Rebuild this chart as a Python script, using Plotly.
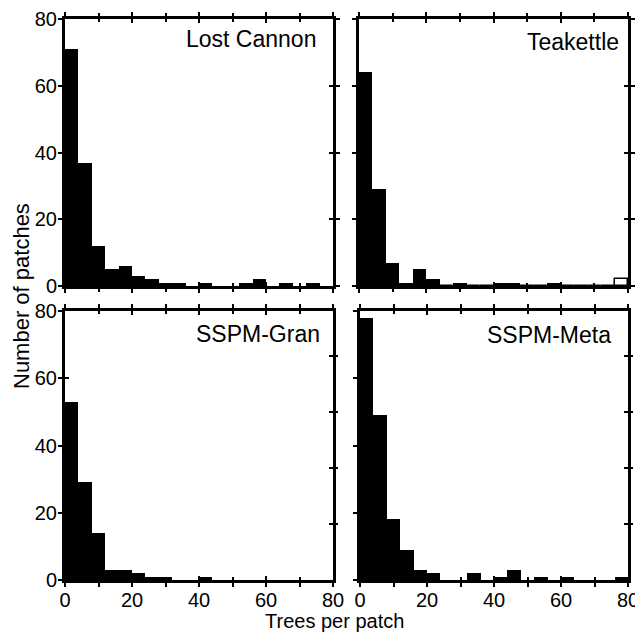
import plotly.graph_objects as go

# ---- data ----
bin_width = 4
bin_centers = [2 + 4 * i for i in range(20)]
panel_names = ["Lost Cannon", "Teakettle", "SSPM-Gran", "SSPM-Meta"]
lost_cannon = [71, 37, 12, 5, 6, 3, 2, 1, 1, 0, 1, 0, 0, 1, 2, 0, 1, 0, 1, 0]
teakettle = [64, 29, 7, 1, 5, 2, 0, 1, 0, 0, 1, 1, 0, 0, 1, 0, 0, 0, 0, 0]
teakettle_open = [0, 0, 0, 0, 0, 0, 0, 0, 0, 0, 0, 0, 0, 0, 0, 0, 0, 0, 0, 2]
sspm_gran = [53, 29, 14, 3, 3, 2, 1, 1, 0, 0, 1, 0, 0, 0, 0, 0, 0, 0, 0, 0]
sspm_meta = [78, 49, 18, 9, 3, 2, 0, 0, 2, 0, 1, 3, 0, 1, 0, 1, 0, 0, 0, 1]
x_ticks = [0, 20, 40, 60, 80]
x_minor = [10, 30, 50, 70]
y_ticks = [0, 20, 40, 60, 80]
right_ticks_bottom = [5, 10, 15, 20]

series = [lost_cannon, teakettle, sspm_gran, sspm_meta]

# page body has an 8px default margin: lay out in screen pixels, offset by it
OFF = 8
W, H = 643 - OFF, 634 - OFF
ML, MR, MT, MB = 65 - OFF, 643 - 628, 19 - OFF, 634 - 580
PW, PH = W - ML - MR, H - MT - MB
FONT = "Liberation Sans, Arial, Helvetica, sans-serif"

def px(x):
    return (x - OFF - ML) / PW

def py(y):
    return 1 - (y - OFF - MT) / PH

# panel pixel boxes in screen coords (left, right, top, bottom)
boxes = [(65, 333, 19, 286), (359, 628, 19, 286), (65, 333, 311, 580), (360, 628, 311, 580)]

fig = go.Figure()
layout = dict(
    width=W, height=H,
    margin=dict(l=ML, r=MR, t=MT, b=MB, autoexpand=False),
    paper_bgcolor="white", plot_bgcolor="white",
    showlegend=False, bargap=0, barmode="overlay",
    font=dict(family=FONT, size=20, color="black"),
)

def sfx(n):
    return "" if n == 1 else str(n)

for i in range(4):
    p = i + 1
    l, r, t, b = boxes[i]
    xd = [max(0, px(l)), min(1, px(r))]
    yd = [max(0, py(b)), min(1, py(t))]
    xa, ya = p, p
    xin, yin = p + 4, p + 4
    yr_out, yr_in = p + 8, p + 12
    bottom = i >= 2
    left = i % 2 == 0

    fig.add_trace(go.Bar(x=bin_centers, y=series[i], width=bin_width,
                         marker=dict(color="black", line=dict(width=0)),
                         xaxis="x" + sfx(xa), yaxis="y" + sfx(ya)))
    if i == 1:
        fig.add_trace(go.Bar(x=bin_centers, y=teakettle_open, width=bin_width,
                             marker=dict(color="white", line=dict(width=1.5, color="black")),
                             xaxis="x" + sfx(xa), yaxis="y" + sfx(ya)))

    # main axes: outward ticks
    layout["xaxis" + sfx(xa)] = dict(
        domain=xd, anchor="y" + sfx(ya), range=[0, 80], showgrid=False, zeroline=False,
        showline=True, linewidth=3, linecolor="black", mirror="allticks",
        ticks="outside", ticklen=4, tickwidth=2, tickcolor="black",
        tickvals=x_ticks, showticklabels=bottom, automargin=False,
        ticklabelstandoff=-4,
        tickfont=dict(size=20, family=FONT),
        minor=dict(tickvals=x_minor, ticks="outside", ticklen=3, tickwidth=2, tickcolor="black"),
    )
    layout["yaxis" + sfx(ya)] = dict(
        domain=yd, anchor="x" + sfx(xa), range=[0, 80], showgrid=False, zeroline=False,
        showline=True, linewidth=3, linecolor="black",
        mirror=True if bottom else "allticks",
        ticks="outside", ticklen=4, tickwidth=2, tickcolor="black",
        tickvals=y_ticks, showticklabels=left, automargin=False,
        ticklabelstandoff=-3,
        tickfont=dict(size=20, family=FONT),
    )
    # overlay axes: inward ticks (crossing tick marks)
    layout["xaxis" + sfx(xin)] = dict(
        overlaying="x" + sfx(xa), anchor="y" + sfx(yin), range=[0, 80],
        showgrid=False, zeroline=False, showline=False, mirror="allticks",
        ticks="inside", ticklen=4, tickwidth=2, tickcolor="black",
        tickvals=x_ticks, showticklabels=False, automargin=False,
        minor=dict(tickvals=x_minor, ticks="inside", ticklen=3, tickwidth=2, tickcolor="black"),
    )
    layout["yaxis" + sfx(yin)] = dict(
        overlaying="y" + sfx(ya), anchor="x" + sfx(xin), range=[0, 80],
        showgrid=False, zeroline=False, showline=False,
        mirror=False if bottom else "allticks",
        ticks="inside", ticklen=4, tickwidth=2, tickcolor="black",
        tickvals=y_ticks, showticklabels=False, automargin=False,
    )
    fig.add_trace(go.Scatter(x=[None], y=[None], xaxis="x" + sfx(xin), yaxis="y" + sfx(yin),
                             hoverinfo="skip"))
    if bottom:
        for yn, tk in ((yr_out, "outside"), (yr_in, "inside")):
            layout["yaxis" + sfx(yn)] = dict(
                overlaying="y" + sfx(ya), anchor="x" + sfx(xa), side="right", range=[0, 24],
                showgrid=False, zeroline=False, showline=False,
                ticks=tk, ticklen=4, tickwidth=2, tickcolor="black",
                tickvals=right_ticks_bottom, showticklabels=False, automargin=False,
            )
            fig.add_trace(go.Scatter(x=[None], y=[None], xaxis="x" + sfx(xa), yaxis="y" + sfx(yn),
                                     hoverinfo="skip"))

# panel labels (screen pixel anchors: right edge, vertical middle)
label_pos = [(318, 39), (621, 42), (322, 334), (613, 335)]
annotations = []
for name, (lx, ly) in zip(panel_names, label_pos):
    annotations.append(dict(text=name, x=px(lx), y=py(ly), xref="paper", yref="paper",
                            xanchor="right", yanchor="middle", showarrow=False,
                            font=dict(size=23, family=FONT, color="black")))
annotations.append(dict(text="Number of patches", x=px(21), y=py(296), xref="paper", yref="paper",
                        xanchor="center", yanchor="middle", textangle=-90, showarrow=False,
                        font=dict(size=22, family=FONT, color="black")))
annotations.append(dict(text="Trees per patch", x=px(334), y=py(621), xref="paper", yref="paper",
                        xanchor="center", yanchor="middle", showarrow=False,
                        font=dict(size=20, family=FONT, color="black")))
layout["annotations"] = annotations

fig.update_layout(**layout)
fig.write_html("out.html")
